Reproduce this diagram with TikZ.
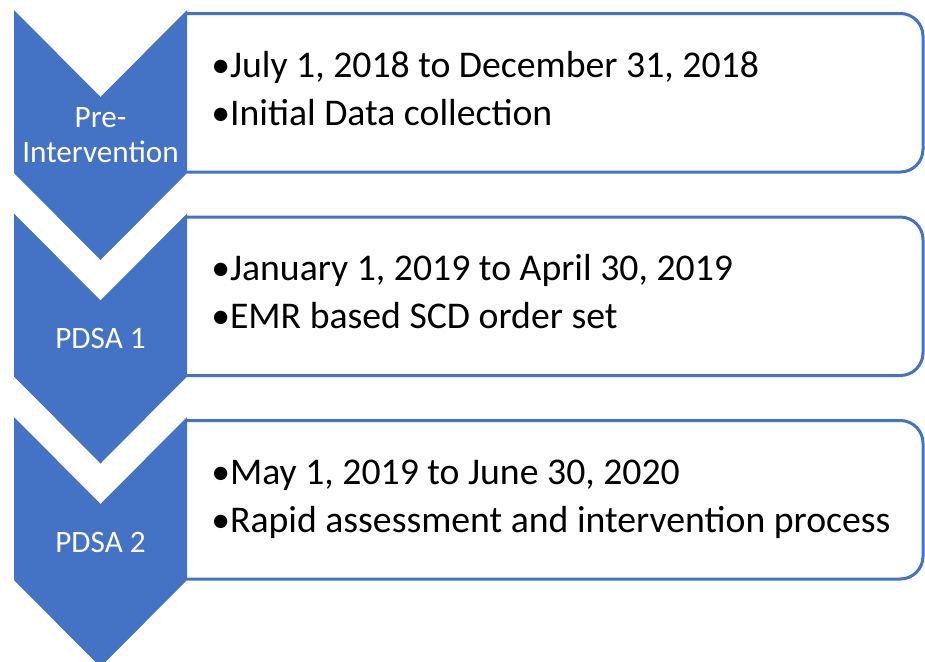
\documentclass[tikz,border=0pt]{standalone}
\usepackage{fontspec}
\setmainfont{Carlito}
\definecolor{officeblue}{HTML}{4472C4}
\tikzset{
  chevron/.style={fill=officeblue},
  stagebox/.style={draw=officeblue,line width=2.25pt,fill=white,rounded corners=17pt},
  stagelabel/.style={text=white,align=center,font=\fontsize{23.4}{26}\selectfont},
  bullettext/.style={anchor=base west,inner sep=0pt,font=\fontsize{28.3}{30}\selectfont}
}
\begin{document}
\begin{tikzpicture}[x=0.75pt,y=-0.75pt]
	\useasboundingbox (0,0) rectangle (925,661);
	\clip (0,0) rectangle (925,661);
	\foreach \n/\t/\lbl/\da/\db in {
		1/10/{Pre-\\Intervention}/{July 1, 2018 to December 31, 2018}/{Initial Data collection},
		2/213.5/{PDSA 1}/{January 1, 2019 to April 30, 2019}/{EMR based SCD order set},
		3/417/{PDSA 2}/{May 1, 2019 to June 30, 2020}/{Rapid assessment and intervention process}}{
		\draw[stagebox] (187,\t+3.5)--(923,\t+3.5)--(923,\t+162)--(187,\t+162);
		\fill[chevron] (14,\t)--(100.5,\t+87)--(187,\t)--(187,\t+163)--(100.5,\t+250)--(14,\t+163)--cycle;
		\node[stagelabel] (stage\n) at (100.5,\t+125) {\lbl};
		\node[bullettext] (date\n) at (211,\t+67) {•\da};
		\node[bullettext] (step\n) at (211,\t+115) {•\db};
	}
\end{tikzpicture}
\end{document}
